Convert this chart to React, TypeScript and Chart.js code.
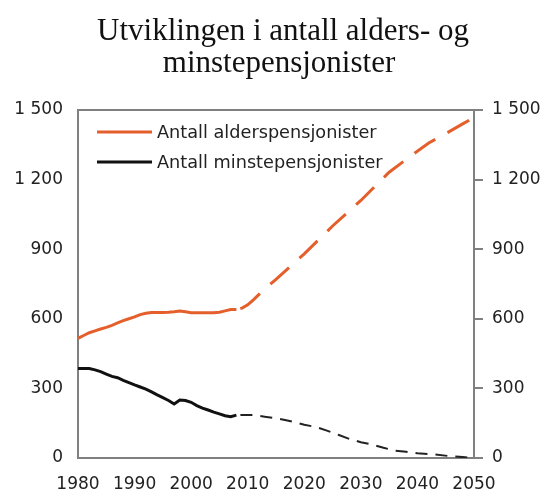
import React, { useEffect, useRef } from "react";
import { Chart, registerables } from "chart.js";
Chart.register(...registerables);

const titleLines = ["Utviklingen i antall alders- og", "minstepensjonister"];
const legendLabels = ["Antall alderspensjonister", "Antall minstepensjonister"];

const histYears = [1980, 1981, 1982, 1983, 1984, 1985, 1986, 1987, 1988, 1989, 1990, 1991, 1992, 1993, 1994, 1995, 1996, 1997, 1998, 1999, 2000, 2001, 2002, 2003, 2004, 2005, 2006, 2007, 2008];
const oldAgeHist = [516, 528, 540, 548, 556, 563, 572, 582, 592, 600, 608, 618, 624, 627, 627, 627, 628, 630, 634, 630, 626, 626, 626, 626, 626, 628, 634, 640, 640];
const minHist = [386, 386, 386, 380, 372, 362, 352, 346, 335, 325, 315, 306, 297, 285, 272, 260, 248, 233, 250, 248, 240, 226, 215, 207, 198, 190, 182, 178, 185];

const oldAgeProjYears = [2009, 2010, 2011, 2012, 2013, 2015, 2020, 2025, 2030, 2035, 2039, 2042, 2044, 2046, 2048, 2050];
const oldAgeProj = [646, 660, 682, 705, 728, 770, 880, 1000, 1110, 1232, 1305, 1358, 1385, 1412, 1440, 1468];

const minProjYears = [2009, 2011, 2013, 2015, 2017, 2019, 2020, 2022, 2024, 2026, 2028, 2030, 2032, 2034, 2036, 2038, 2040, 2043, 2046, 2048, 2050];
const minProj = [185, 185, 178, 171, 162, 150, 143, 134, 118, 100, 82, 68, 58, 44, 32, 27, 20, 16, 7, 4, 0];

const yTicks = [0, 300, 600, 900, 1200, 1500];
const xTicks = [1980, 1990, 2000, 2010, 2020, 2030, 2040, 2050];

const ORANGE = "#E45F2B";
const BLACK = "#111111";
const AXIS = "#808080";
const TEXT = "#222222";

const fmt = (v: number) => {
  const s = String(Math.round(v));
  return s.length > 3 ? s.slice(0, s.length - 3) + " " + s.slice(-3) : s;
};

const pts = (xs: number[], ys: number[]) => xs.map((x, i) => ({ x, y: ys[i] }));

export default function App() {
  const ref = useRef<HTMLCanvasElement | null>(null);
  useEffect(() => {
    document.body.style.margin = "0";
    const canvas = ref.current!;
    const framePlugin = {
      id: "frame",
      afterDatasetsDraw(chart: any) {
        const { ctx, chartArea } = chart;
        ctx.save();
        ctx.strokeStyle = AXIS;
        ctx.lineWidth = 2;
        ctx.beginPath();
        ctx.moveTo(chartArea.left, chartArea.top);
        ctx.lineTo(chartArea.right, chartArea.top);
        ctx.stroke();
        // legend
        const colors = [ORANGE, BLACK];
        const ys = [chartArea.top + 22, chartArea.top + 52];
        ctx.font = "17.7px 'DejaVu Sans'";
        ctx.textBaseline = "middle";
        ctx.fillStyle = TEXT;
        legendLabels.forEach((lab, i) => {
          ctx.strokeStyle = colors[i];
          ctx.lineWidth = 3;
          ctx.beginPath();
          ctx.moveTo(chartArea.left + 19, ys[i]);
          ctx.lineTo(chartArea.left + 74, ys[i]);
          ctx.stroke();
          ctx.fillText(lab, chartArea.left + 79, ys[i] + 1);
        });
        // title
        ctx.font = "31px 'Liberation Serif'";
        ctx.textAlign = "center";
        ctx.textBaseline = "alphabetic";
        ctx.fillStyle = "#111";
        ctx.fillText(titleLines[0], 283, 40);
        ctx.fillText(titleLines[1], 279, 72);
        ctx.restore();
      },
    };
    const tickFont = { family: "'DejaVu Sans'", size: 17 };
    const chart = new Chart(canvas, {
      type: "line",
      data: {
        datasets: [
          { data: pts(histYears, oldAgeHist), borderColor: ORANGE, borderWidth: 3, pointRadius: 0, yAxisID: "y" },
          { data: pts([2008, ...oldAgeProjYears], [oldAgeHist[oldAgeHist.length - 1], ...oldAgeProj]), borderColor: ORANGE, borderWidth: 3, borderDash: [25, 14], borderDashOffset: 35, pointRadius: 0, yAxisID: "y" },
          { data: pts(histYears, minHist), borderColor: BLACK, borderWidth: 3, pointRadius: 0, yAxisID: "y" },
          { data: pts([2008, ...minProjYears], [minHist[minHist.length - 1], ...minProj]), borderColor: "#222", borderWidth: 2, borderDash: [12, 8], borderDashOffset: 16, pointRadius: 0, yAxisID: "y" },
        ],
      },
      options: {
        animation: false,
        responsive: false,
        maintainAspectRatio: false,
        layout: { padding: { top: 110, left: 0, right: 0, bottom: 0 } },
        plugins: { legend: { display: false }, title: { display: false }, tooltip: { enabled: false } },
        scales: {
          x: {
            type: "linear",
            min: 1980,
            max: 2050,
            afterBuildTicks: (s: any) => { s.ticks = xTicks.map((v) => ({ value: v })); },
            afterFit: (s: any) => { s.height = 34; },
            grid: { display: false, drawTicks: false },
            border: { display: true, color: AXIS, width: 2 },
            ticks: { font: tickFont, color: TEXT, padding: 16, maxRotation: 0, callback: (v: any) => String(v) },
          },
          y: {
            type: "linear",
            position: "left",
            min: 0,
            max: 1500,
            afterBuildTicks: (s: any) => { s.ticks = yTicks.map((v) => ({ value: v })); },
            afterFit: (s: any) => { s.width = 78; },
            grid: { display: false, drawTicks: false },
            border: { display: true, color: AXIS, width: 2 },
            ticks: { font: tickFont, color: TEXT, padding: 15, callback: (v: any) => fmt(v) },
          },
          y2: {
            type: "linear",
            position: "right",
            min: 0,
            max: 1500,
            afterBuildTicks: (s: any) => { s.ticks = yTicks.map((v) => ({ value: v })); },
            afterFit: (s: any) => { s.width = 69; },
            grid: { display: true, drawOnChartArea: false, drawTicks: true, tickLength: 9, color: AXIS, lineWidth: 2 },
            border: { display: true, color: AXIS, width: 2 },
            ticks: { font: tickFont, color: TEXT, padding: 9, callback: (v: any) => fmt(v) },
          },
        },
      } as any,
      plugins: [framePlugin],
    });
    return () => chart.destroy();
  }, []);
  return (
    <div style={{ width: 543, height: 492, background: "#fff" }}>
      <canvas ref={ref} width={543} height={492} style={{ display: "block" }} />
    </div>
  );
}
